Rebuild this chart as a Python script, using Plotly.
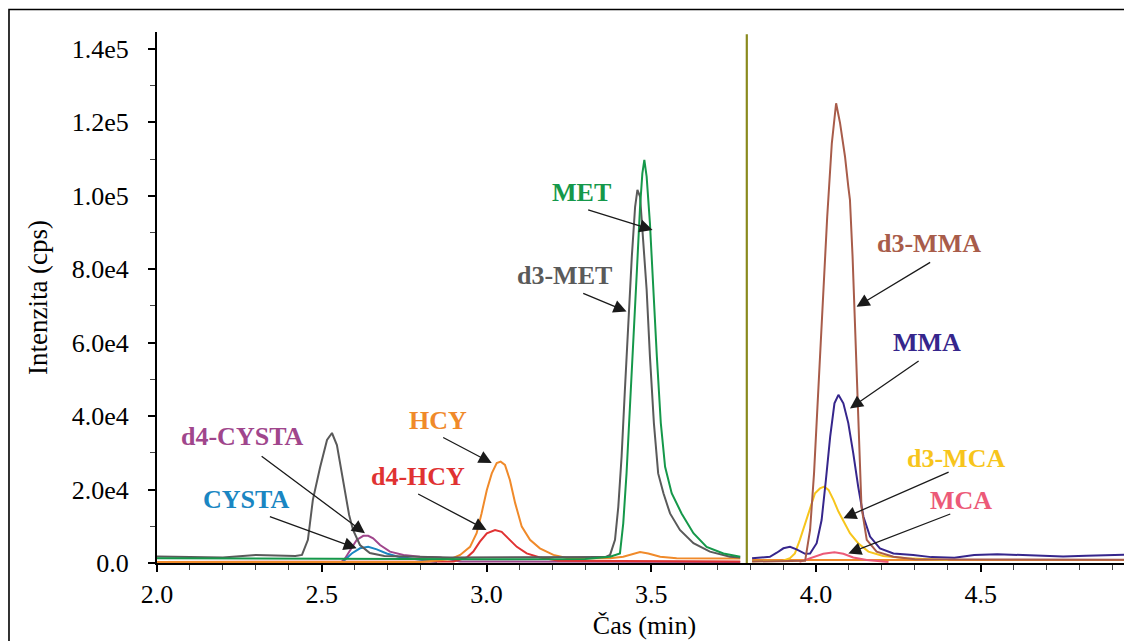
import plotly.graph_objects as go

# ---------------- data (time in min, intensity in thousands of cps) ----------------
d3met_t = [2.00, 2.13, 2.20, 2.30, 2.37, 2.42, 2.44, 2.458, 2.473, 2.495, 2.516, 2.531, 2.546, 2.564,
           2.583, 2.595, 2.616, 2.646, 2.69, 2.89, 3.19, 3.36, 3.375, 3.39, 3.40, 3.41, 3.42, 3.43,
           3.441, 3.451, 3.458, 3.466, 3.476, 3.486, 3.496, 3.508, 3.521, 3.537, 3.557, 3.587, 3.628,
           3.678, 3.739, 3.77]
d3met_i = [1.8, 1.6, 1.5, 2.2, 2.0, 1.9, 2.2, 6.3, 17.2, 26.1, 33.5, 35.4, 32.1, 22.6,
           13.1, 9.0, 4.9, 2.7, 1.9, 1.5, 1.5, 1.6, 2.2, 6.3, 15.3, 29.0, 47.1, 65.4,
           83.4, 97.0, 101.6, 99.8, 88.0, 74.4, 56.2, 38.1, 24.4, 19.0, 13.5, 9.0, 5.4,
           3.1, 1.7, 1.5]

met_t = [2.00, 2.45, 2.60, 3.00, 3.30, 3.375, 3.405, 3.415, 3.425, 3.436, 3.446, 3.456, 3.466, 3.473,
         3.479, 3.486, 3.496, 3.506, 3.517, 3.529, 3.542, 3.562, 3.592, 3.628, 3.668, 3.719, 3.77]
met_i = [1.3, 1.2, 1.0, 1.0, 1.1, 1.7, 2.6, 10.8, 24.4, 42.6, 60.7, 78.9, 97.0, 106.1,
         109.8, 105.2, 92.5, 74.4, 56.2, 38.1, 26.2, 19.0, 13.5, 8.1, 4.4, 2.6, 1.7]

hcy_t = [2.00, 2.80, 2.889, 2.92, 2.95, 2.97, 2.985, 3.001, 3.016, 3.031, 3.043, 3.056, 3.071, 3.087,
         3.107, 3.132, 3.162, 3.203, 3.25, 3.375, 3.415, 3.446, 3.466, 3.491, 3.527, 3.577, 3.77,
         None, 3.806, 4.30, 4.959]
hcy_i = [0.3, 0.3, 1.0, 2.2, 4.4, 8.1, 13.5, 19.9, 24.4, 27.2, 27.6, 26.7, 22.6, 16.3,
         9.9, 6.3, 4.0, 2.2, 1.2, 1.3, 1.7, 2.6, 3.0, 2.6, 1.7, 1.3, 1.2,
         None, 0.8, 0.8, 0.8]

d4hcy_t = [2.00, 2.90, 2.94, 2.96, 2.98, 3.001, 3.026, 3.046, 3.066, 3.092, 3.122, 3.162, 3.22, 3.77]
d4hcy_i = [0.3, 0.4, 1.5, 3.1, 5.8, 8.1, 9.0, 8.5, 6.7, 4.4, 2.6, 1.5, 0.6, 0.4]

d4cysta_t = [2.00, 2.56, 2.571, 2.586, 2.606, 2.626, 2.641, 2.656, 2.677, 2.707, 2.748, 2.798, 2.859,
             2.92, 3.77]
d4cysta_i = [0.3, 0.3, 1.3, 3.5, 6.3, 7.4, 7.4, 6.7, 4.9, 3.1, 2.2, 1.7, 1.5, 0.4, 0.3]

cysta_t = [2.56, 2.571, 2.591, 2.616, 2.641, 2.667, 2.697, 2.732, 2.778, 2.85]
cysta_i = [0.0, 1.0, 2.6, 4.0, 4.4, 3.7, 2.6, 1.7, 1.2, 0.3]

d3mma_t = [3.806, 3.95, 3.967, 3.982, 3.994, 4.007, 4.020, 4.034, 4.048, 4.061, 4.073, 4.088, 4.098,
           4.103, 4.111, 4.118, 4.123, 4.131, 4.138, 4.154, 4.184, 4.235, 4.30, 4.959]
d3mma_i = [0.4, 0.4, 0.6, 9.0, 24.4, 47.1, 69.8, 94.3, 114.3, 125.2, 119.8, 110.7, 102.5,
           98.9, 83.4, 65.3, 51.7, 33.5, 15.3, 6.3, 3.1, 1.7, 1.0, 0.9]

mma_t = [3.806, 3.86, 3.881, 3.901, 3.921, 3.941, 3.967, 3.982, 4.002, 4.017, 4.030, 4.043, 4.056,
         4.068, 4.083, 4.098, 4.113, 4.128, 4.144, 4.164, 4.194, 4.235, 4.295, 4.35, 4.42, 4.48,
         4.55, 4.62, 4.68, 4.75, 4.82, 4.88, 4.959]
mma_i = [1.3, 1.7, 2.8, 4.0, 4.4, 3.7, 2.5, 2.6, 5.4, 11.7, 22.6, 34.4, 43.5,
         45.8, 43.5, 38.1, 29.9, 20.8, 12.6, 7.2, 4.0, 2.6, 2.2, 1.6, 1.4, 2.2,
         2.4, 2.2, 2.0, 1.8, 2.0, 2.2, 2.3]

d3mca_t = [3.806, 3.90, 3.921, 3.936, 3.951, 3.967, 3.982, 3.997, 4.012, 4.025, 4.038, 4.053, 4.068,
           4.083, 4.103, 4.128, 4.159, 4.204, 4.275, 4.40]
d3mca_i = [0.5, 0.6, 1.3, 2.6, 6.3, 10.8, 15.3, 19.0, 20.3, 20.8, 19.9, 17.2, 14.0,
           11.3, 8.1, 5.4, 3.1, 1.9, 1.3, 0.8]

mca_t = [3.95, 3.967, 3.992, 4.022, 4.056, 4.083, 4.113, 4.154, 4.22]
mca_i = [0.3, 0.8, 1.5, 2.5, 2.9, 2.5, 1.5, 0.8, 0.3]

# peak labels with their arrows (label centre, arrow tail, arrow head)
labels = ["MET", "d3-MET", "HCY", "d4-HCY", "d4-CYSTA", "CYSTA", "d3-MMA", "MMA", "d3-MCA", "MCA"]
label_t = [3.287, 3.238, 2.854, 2.793, 2.259, 2.269, 4.343, 4.336, 4.424, 4.439]
label_i = [100.8, 78.2, 38.9, 23.5, 34.4, 17.2, 86.9, 60.1, 28.5, 17.0]
tail_t = [3.304, 3.289, 2.864, 2.788, 2.313, 2.338, 4.351, 4.316, 4.407, 4.412]
tail_i = [96.3, 73.6, 34.4, 19.0, 29.4, 12.8, 82.1, 55.3, 24.9, 13.5]
head_t = [3.504, 3.425, 3.016, 3.000, 2.631, 2.606, 4.123, 4.103, 4.083, 4.098]
head_i = [90.7, 68.5, 27.2, 9.0, 8.1, 4.0, 69.8, 42.1, 12.2, 2.6]

y_ticks = [0, 20, 40, 60, 80, 100, 120, 140]
y_ticktext = ["0.0", "2.0e4", "4.0e4", "6.0e4", "8.0e4", "1.0e5", "1.2e5", "1.4e5"]
x_ticks = [2.0, 2.5, 3.0, 3.5, 4.0, 4.5]
x_ticktext = ["2.0", "2.5", "3.0", "3.5", "4.0", "4.5"]
segment_split = 3.79

# ---------------- styling ----------------
C = {
    "d3-MET": "#5a5a5a", "MET": "#15984a", "HCY": "#f08a2a", "d4-HCY": "#e03232",
    "d4-CYSTA": "#a0468c", "CYSTA": "#1a86c2", "d3-MMA": "#a85c4a", "MMA": "#36268c",
    "d3-MCA": "#f7c51c", "MCA": "#ec5a78",
}
FONT = "Liberation Serif"

fig = go.Figure()
series = [
    ("d4-CYSTA", d4cysta_t, d4cysta_i), ("CYSTA", cysta_t, cysta_i),
    ("d4-HCY", d4hcy_t, d4hcy_i), ("HCY", hcy_t, hcy_i),
    ("d3-MET", d3met_t, d3met_i), ("MET", met_t, met_i),
    ("MCA", mca_t, mca_i), ("d3-MCA", d3mca_t, d3mca_i),
    ("MMA", mma_t, mma_i), ("d3-MMA", d3mma_t, d3mma_i),
]
for name, t, i in series:
    fig.add_trace(go.Scatter(x=t, y=i, mode="lines", name=name, connectgaps=False,
                             line=dict(color=C[name], width=2.0),
                             showlegend=False))

for k, txt in enumerate(labels):
    fig.add_annotation(x=label_t[k], y=label_i[k], text="<b>%s</b>" % txt, showarrow=False,
                       font=dict(family=FONT, size=26, color=C[txt]), xanchor="center", yanchor="middle")
    fig.add_annotation(x=head_t[k], y=head_i[k], ax=tail_t[k], ay=tail_i[k], axref="x", ayref="y",
                       text="", showarrow=True, arrowhead=2, arrowsize=2.0, arrowwidth=1.3,
                       arrowcolor="#1a1a1a", standoff=0)

# segment divider
fig.add_shape(type="line", xref="x", yref="y", x0=segment_split, x1=segment_split, y0=0, y1=144.0,
              line=dict(color="#8a8a1e", width=2.2), layer="above")
# outer frame (left and top edges visible)
fig.add_shape(type="rect", xref="paper", yref="paper", x0=-0.1518, x1=1.05, y0=-0.3, y1=1.0424,
              line=dict(color="black", width=1.6), fillcolor="rgba(0,0,0,0)", layer="above")

fig.update_layout(
    width=1124, height=633,
    margin=dict(l=149, r=0, t=24, b=78, autoexpand=False),
    paper_bgcolor="white", plot_bgcolor="white",
    font=dict(family=FONT, size=26, color="black"),
    xaxis=dict(range=[2.0, 4.959], tickvals=x_ticks, ticktext=x_ticktext, ticks="outside",
               ticklen=7, tickwidth=1.5, tickcolor="black", showline=True, linecolor="black",
               linewidth=2, showgrid=False, zeroline=False, automargin=False,
               tickfont=dict(family=FONT, size=26, color="black"),
               minor=dict(dtick=0.1, tick0=2.0, ticks="outside", ticklen=5, tickwidth=1.2,
                          tickcolor="#444", showgrid=False),
               title=dict(text="Čas (min)", font=dict(family=FONT, size=26), standoff=8)),
    yaxis=dict(range=[0, 144.6], tickvals=y_ticks, ticktext=y_ticktext, ticks="outside",
               ticklen=7, tickwidth=1.5, tickcolor="black", showline=True, linecolor="black",
               linewidth=2, showgrid=False, zeroline=False, ticklabelstandoff=14, automargin=False,
               tickfont=dict(family=FONT, size=26, color="black"),
               minor=dict(dtick=10, tick0=0, ticks="outside", ticklen=5, tickwidth=1.2,
                          tickcolor="#444", showgrid=False),
               title=dict(text="Intenzita (cps)", font=dict(family=FONT, size=27), standoff=16)),
)

fig.write_html("out.html")
